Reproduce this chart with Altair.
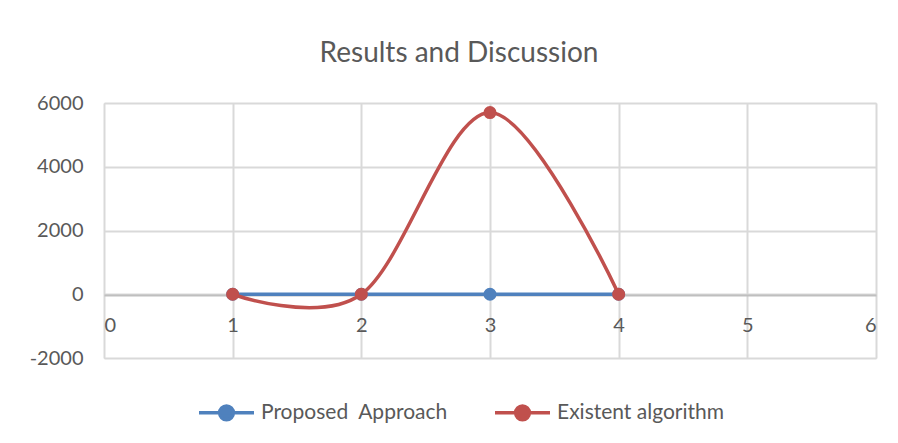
import altair as alt
import pandas as pd

x_vals = [1, 2, 3, 4]
proposed = [0, 0, 0, 0]
existent = [0, 0, 5700, 0]
series_names = ["Proposed\u00a0 Approach", "Existent algorithm"]
colors = ["#4F81BD", "#C0504D"]
y_ticks = [-2000, 0, 2000, 4000, 6000]
x_ticks = [0, 1, 2, 3, 4, 5, 6]

rows = []
for xv, p in zip(x_vals, proposed):
    rows.append({"x": xv, "y": p, "series": series_names[0]})
for xv, e in zip(x_vals, existent):
    rows.append({"x": xv, "y": e, "series": series_names[1]})
df = pd.DataFrame(rows)

FONT = "Lato"
GREY = "#595959"

color = alt.Color(
    "series:N",
    scale=alt.Scale(domain=series_names, range=colors),
    legend=alt.Legend(
        title=None,
        orient="none",
        legendX=93,
        legendY=280,
        direction="horizontal",
        symbolType="M-1,0H1M-0.25,0a0.25,0.25 0 1,0 0.5,0a0.25,0.25 0 1,0 -0.5,0",
        symbolSize=3025,
        symbolStrokeWidth=3.5,
        labelFont=FONT,
        labelFontSize=21,
        labelColor=GREY,
        labelOffset=5,
        labelLimit=400,
        columnPadding=40,
    ),
)

xenc = alt.X(
    "x:Q",
    scale=alt.Scale(domain=[0, 6], nice=False),
    axis=alt.Axis(
        values=x_ticks,
        title=None,
        offset=-63,
        ticks=False,
        domainColor="#BFBFBF",
        domainWidth=2,
        labelFont=FONT,
        labelFontSize=20,
        labelColor=GREY,
        labelPadding=20,
        labelExpr="'' + datum.value",
        gridColor="#D9D9D9",
        gridWidth=2,
    ),
)
yenc = alt.Y(
    "y:Q",
    scale=alt.Scale(domain=[-2000, 6000], nice=False),
    axis=alt.Axis(
        values=y_ticks,
        title=None,
        ticks=False,
        domain=False,
        labelFont=FONT,
        labelFontSize=20,
        labelColor=GREY,
        labelPadding=21,
        labelExpr="'' + datum.value",
        gridColor="#D9D9D9",
        gridWidth=2,
    ),
)

base = alt.Chart(df)
blue_line = base.transform_filter(alt.datum.series == series_names[0]).mark_line(
    strokeWidth=3.5
).encode(x=xenc, y=yenc, color=color)
red_line = base.transform_filter(alt.datum.series == series_names[1]).mark_line(
    strokeWidth=3.5, interpolate="cardinal"
).encode(x=xenc, y=yenc, color=color)
blue_pts = base.transform_filter(alt.datum.series == series_names[0]).mark_point(
    filled=True, size=170, opacity=1
).encode(x=xenc, y=yenc, color=color)
red_pts = base.transform_filter(alt.datum.series == series_names[1]).mark_point(
    filled=True, size=170, opacity=1
).encode(x=xenc, y=yenc, color=color)

chart = alt.layer(blue_line, blue_pts, red_line, red_pts).properties(
    width=772,
    height=255,
    title=alt.TitleParams(
        "Results and Discussion",
        font=FONT,
        fontSize=28,
        fontWeight="normal",
        color=GREY,
        offset=25,
        dx=-31,
    ),
    autosize=alt.AutoSizeParams(type="none"),
    padding={"left": 104, "top": 103, "right": 22, "bottom": 85},
).configure_view(stroke=None).configure(background="white")

chart.save("out.html", embed_options={"renderer": "svg", "actions": False})
